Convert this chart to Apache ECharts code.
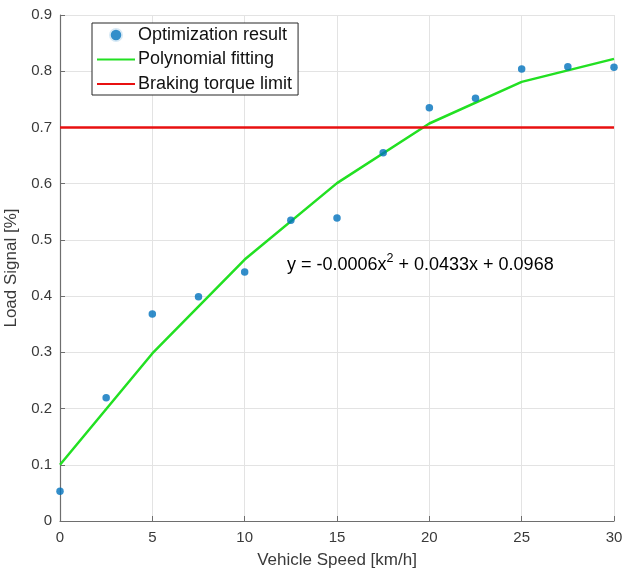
<!DOCTYPE html>
<html><head><meta charset="utf-8">
<script src="https://cdn.jsdelivr.net/npm/echarts@6/dist/echarts.min.js"></script>
<style>html,body{margin:0;padding:0;background:#fff}#c{width:624px;height:572px}</style>
</head><body><div id="c"></div>
<script>
var speeds = [0, 2.5, 5, 7.5, 10, 12.5, 15, 17.5, 20, 22.5, 25, 27.5, 30];
var optResult = [0.053, 0.219, 0.368, 0.399, 0.443, 0.535, 0.539, 0.655, 0.735, 0.752, 0.804, 0.808, 0.807];
var fitSpeeds = [0, 5, 10, 15, 20, 25, 30];
var fitValues = [0.1, 0.298, 0.465, 0.601, 0.707, 0.781, 0.822];
var limitSpeeds = [0, 30];
var limitValues = [0.7, 0.7];
var equationText = ['y = -0.0006x', '2', ' + 0.0433x + 0.0968'];

var chart = echarts.init(document.getElementById('c'));
var F = 'Liberation Sans, Arial, Helvetica, sans-serif';
var axisCol = '#262626';
chart.setOption({
  animation: false,
  grid: {left: 60, right: 10, top: 15, bottom: 51, containLabel: false, outerBoundsMode: 'none'},
  xAxis: {
    type: 'value', min: 0, max: 30, interval: 5,
    name: 'Vehicle Speed [km/h]', nameLocation: 'middle', nameGap: 31,
    nameTextStyle: {fontFamily: F, fontSize: 17, color: '#3a3a3a'},
    axisLine: {onZero: false, lineStyle: {color: '#6e6e6e', width: 1.2}},
    axisTick: {show: true, inside: true, length: 5, lineStyle: {color: '#6e6e6e'}},
    axisLabel: {fontFamily: F, fontSize: 15, color: '#3a3a3a', margin: 9},
    splitLine: {show: true, lineStyle: {color: '#e3e3e3', width: 1}}
  },
  yAxis: {
    type: 'value', min: 0, max: 0.9, interval: 0.1,
    name: 'Load Signal [%]', nameLocation: 'middle', nameGap: 38,
    nameTextStyle: {fontFamily: F, fontSize: 17, color: '#3a3a3a'},
    axisLine: {show: true, onZero: false, lineStyle: {color: '#6e6e6e', width: 1.2}},
    axisTick: {show: true, inside: true, length: 5, lineStyle: {color: '#6e6e6e'}},
    axisLabel: {fontFamily: F, fontSize: 15, color: '#3a3a3a', margin: 8,
      formatter: function (v) { return v === 0 ? '0' : (Math.round(v * 10) / 10).toString(); }},
    splitLine: {show: true, lineStyle: {color: '#e3e3e3', width: 1}}
  },
  legend: {
    orient: 'vertical', left: 92, top: 23,
    padding: [3, 6, 2, 4], itemGap: 6.5, itemWidth: 38, itemHeight: 14,
    borderColor: axisCol, borderWidth: 1, backgroundColor: '#fff',
    textStyle: {fontFamily: F, fontSize: 18, color: '#111', padding: [0, 0, 0, -2]},
    data: [
      {name: 'Optimization result', icon: 'circle', itemStyle: {borderColor: '#fff', borderWidth: 3.5}},
      {name: 'Polynomial fitting', itemStyle: {opacity: 0}},
      {name: 'Braking torque limit', itemStyle: {opacity: 0}}
    ]
  },
  graphic: [{
    type: 'text', left: 287, top: 248, z: 100,
    style: {
      text: '{a|' + equationText[0] + '}{s|' + equationText[1] + '}{a|' + equationText[2] + '}',
      rich: {
        a: {fontFamily: F, fontSize: 18, color: '#111', verticalAlign: 'bottom', lineHeight: 26},
        s: {fontFamily: F, fontSize: 12.5, color: '#111', verticalAlign: 'top', lineHeight: 16, padding: [4, 0, 0, 0]}
      }
    }
  }],
  series: [
    {
      name: 'Optimization result', type: 'scatter', symbol: 'circle', symbolSize: 7.5,
      itemStyle: {color: '#0072BD'}, z: 5,
      data: speeds.map(function (s, i) { return [s, optResult[i]]; })
    },
    {
      name: 'Polynomial fitting', type: 'line', showSymbol: false, symbol: 'none',
      lineStyle: {color: '#22e022', width: 2.5}, itemStyle: {color: '#22e022'},
      data: fitSpeeds.map(function (s, i) { return [s, fitValues[i]]; })
    },
    {
      name: 'Braking torque limit', type: 'line', showSymbol: false, symbol: 'none',
      lineStyle: {color: '#e81010', width: 2.5}, itemStyle: {color: '#e81010'},
      data: limitSpeeds.map(function (s, i) { return [s, limitValues[i]]; })
    }
  ]
});
</script></body></html>
